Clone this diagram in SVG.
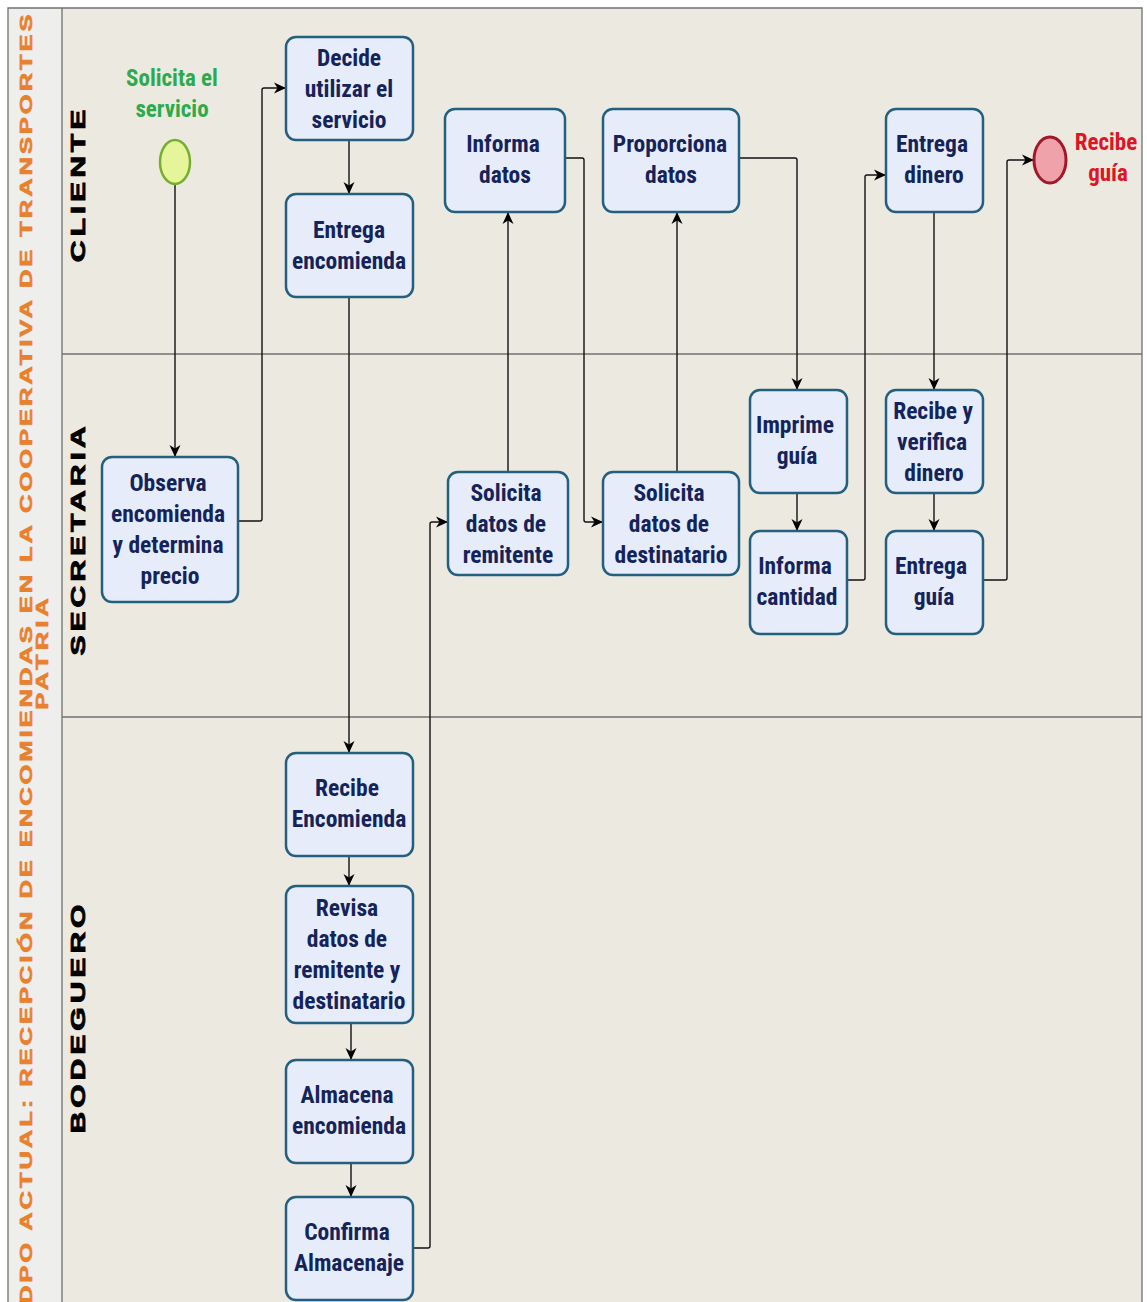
<svg xmlns="http://www.w3.org/2000/svg" width="1147" height="1302" viewBox="0 0 1147 1302">
  <style>
    .lane { fill: #ECEAE0; stroke: none; }
    .sep { stroke: #707070; stroke-width: 1.3; fill: none; }
    .title { font-family: "Liberation Sans", Arial, sans-serif; font-weight: bold; font-size: 16px; fill: #E8802E; stroke: #E8802E; stroke-width: 0.6; }
    .lname { font-family: "Liberation Sans", Arial, sans-serif; font-weight: bold; font-size: 19.5px; fill: #000; stroke: #000; stroke-width: 0.8; letter-spacing: 2.5px; }
    .task rect { fill: #E6ECFA; stroke: #245F80; stroke-width: 2.5; }
    .task text { font-family: "Roboto Condensed", "Liberation Sans Narrow", "Liberation Sans", Arial, sans-serif; font-weight: bold; font-size: 23.5px; fill: #14245A; text-anchor: middle; }
    .conn path { fill: none; stroke: #111; stroke-width: 1.4; }
    .evlabel { font-family: "Roboto Condensed", "Liberation Sans Narrow", "Liberation Sans", Arial, sans-serif; font-weight: bold; font-size: 23px; text-anchor: middle; }
  </style>
  <defs>
    <marker id="arrow" viewBox="0 0 12 12" refX="12" refY="6" markerWidth="13" markerHeight="12" markerUnits="userSpaceOnUse" orient="auto">
      <path d="M0,0.5 L12,6 L0,11.5 L3.5,6 Z" fill="#000"/>
    </marker>
  </defs>

  <!-- page background and pool frame -->
  <rect x="0" y="0" width="1147" height="1302" fill="#FFFFFF"/>
  <rect x="8" y="8" width="54" height="1294" fill="#EEEEEC"/>
  <rect class="lane" x="62" y="8" width="1080" height="1294"/>
  <path class="sep" d="M8,1302 V8 H1142 V1302"/>
  <path class="sep" d="M62,8 V1302"/>
  <path class="sep" d="M62,354 H1142"/>
  <path class="sep" d="M62,717 H1142"/>

  <!-- pool title (wide lettering, stretched along the reading direction) -->
  <g id="pool-title">
    <text class="title" transform="translate(32,1304) rotate(-90) scale(1.6,1)" textLength="806" lengthAdjust="spacing">DPO ACTUAL: RECEPCIÓN DE ENCOMIENDAS EN LA COOPERATIVA DE TRANSPORTES</text>
    <text class="title" transform="translate(48,652) rotate(-90) scale(1.6,1)" text-anchor="middle" letter-spacing="2.5">PATRIA</text>
  </g>

  <!-- lane names -->
  <g id="lane-cliente"><text class="lname" transform="translate(85,184) rotate(-90) scale(1.55,1)" text-anchor="middle">CLIENTE</text></g>
  <g id="lane-secretaria"><text class="lname" transform="translate(85,539) rotate(-90) scale(1.55,1)" text-anchor="middle">SECRETARIA</text></g>
  <g id="lane-bodeguero"><text class="lname" transform="translate(85,1017) rotate(-90) scale(1.55,1)" text-anchor="middle">BODEGUERO</text></g>

  <!-- connectors -->
  <g id="connectors" class="conn">
    <path d="M175,184 V457" marker-end="url(#arrow)"/>
    <path d="M238,521 H260 Q262,521 262,519 V90 Q262,88 264,88 H286" marker-end="url(#arrow)"/>
    <path d="M349,140 V194" marker-end="url(#arrow)"/>
    <path d="M349,297 V753" marker-end="url(#arrow)"/>
    <path d="M349,856 V886" marker-end="url(#arrow)"/>
    <path d="M351,1023 V1060" marker-end="url(#arrow)"/>
    <path d="M351,1163 V1197" marker-end="url(#arrow)"/>
    <path d="M413,1248 H428 Q430,1248 430,1246 V524 Q430,522 432,522 H448" marker-end="url(#arrow)"/>
    <path d="M508,472 V212" marker-end="url(#arrow)"/>
    <path d="M565,158 H582 Q584,158 584,160 V520 Q584,522 586,522 H603" marker-end="url(#arrow)"/>
    <path d="M677,472 V212" marker-end="url(#arrow)"/>
    <path d="M739,158 H795 Q797,158 797,160 V390" marker-end="url(#arrow)"/>
    <path d="M797,493 V531" marker-end="url(#arrow)"/>
    <path d="M847,580 H863 Q865,580 865,578 V177 Q865,175 867,175 H886" marker-end="url(#arrow)"/>
    <path d="M934,212 V390" marker-end="url(#arrow)"/>
    <path d="M934,493 V531" marker-end="url(#arrow)"/>
    <path d="M983,580 H1005 Q1007,580 1007,578 V162 Q1007,160 1009,160 H1034" marker-end="url(#arrow)"/>
  </g>

  <!-- start event -->
  <g id="start">
    <ellipse cx="175" cy="162" rx="15" ry="22" fill="#E4F59A" stroke="#78AE30" stroke-width="2.5"/>
    <text class="evlabel" x="172" y="86" fill="#2EAA4E">Solicita el</text>
    <text class="evlabel" x="172" y="117" fill="#2EAA4E">servicio</text>
  </g>

  <!-- end event -->
  <g id="end">
    <ellipse cx="1050" cy="160" rx="16" ry="23" fill="#EFA2AA" stroke="#A0182A" stroke-width="3"/>
    <text class="evlabel" x="1106" y="150" fill="#E01424">Recibe</text>
    <text class="evlabel" x="1108" y="181" fill="#E01424">guía</text>
  </g>

  <!-- tasks -->
  <g id="decide" class="task">
    <rect x="286" y="37" width="127" height="103" rx="10"/>
    <text x="349" y="66">Decide</text><text x="349" y="97">utilizar el</text><text x="349" y="128">servicio</text>
  </g>
  <g id="entrega-encomienda" class="task">
    <rect x="286" y="194" width="127" height="103" rx="10"/>
    <text x="349" y="238">Entrega</text><text x="349" y="269">encomienda</text>
  </g>
  <g id="informa-datos" class="task">
    <rect x="445" y="109" width="120" height="103" rx="10"/>
    <text x="503" y="152">Informa</text><text x="505" y="183">datos</text>
  </g>
  <g id="proporciona-datos" class="task">
    <rect x="603" y="109" width="136" height="103" rx="10"/>
    <text x="670" y="152">Proporciona</text><text x="671" y="183">datos</text>
  </g>
  <g id="entrega-dinero" class="task">
    <rect x="886" y="109" width="97" height="103" rx="10"/>
    <text x="932" y="152">Entrega</text><text x="934" y="183">dinero</text>
  </g>
  <g id="observa" class="task">
    <rect x="102" y="457" width="136" height="145" rx="10"/>
    <text x="168" y="491">Observa</text><text x="168" y="522">encomienda</text><text x="168" y="553">y determina</text><text x="170" y="584">precio</text>
  </g>
  <g id="solicita-remitente" class="task">
    <rect x="448" y="472" width="120" height="103" rx="10"/>
    <text x="506" y="501">Solicita</text><text x="506" y="532">datos de</text><text x="508" y="563">remitente</text>
  </g>
  <g id="solicita-destinatario" class="task">
    <rect x="603" y="472" width="136" height="103" rx="10"/>
    <text x="669" y="501">Solicita</text><text x="669" y="532">datos de</text><text x="671" y="563">destinatario</text>
  </g>
  <g id="imprime-guia" class="task">
    <rect x="750" y="390" width="97" height="103" rx="10"/>
    <text x="795" y="433">Imprime</text><text x="797" y="464">guía</text>
  </g>
  <g id="informa-cantidad" class="task">
    <rect x="750" y="531" width="97" height="103" rx="10"/>
    <text x="795" y="574">Informa</text><text x="797" y="605">cantidad</text>
  </g>
  <g id="recibe-verifica" class="task">
    <rect x="886" y="390" width="97" height="103" rx="10"/>
    <text x="933" y="419">Recibe y</text><text x="932" y="450">verifica</text><text x="934" y="481">dinero</text>
  </g>
  <g id="entrega-guia" class="task">
    <rect x="886" y="531" width="97" height="103" rx="10"/>
    <text x="931" y="574">Entrega</text><text x="934" y="605">guía</text>
  </g>
  <g id="recibe-encomienda" class="task">
    <rect x="286" y="753" width="127" height="103" rx="10"/>
    <text x="347" y="796">Recibe</text><text x="349" y="827">Encomienda</text>
  </g>
  <g id="revisa-datos" class="task">
    <rect x="286" y="886" width="127" height="137" rx="10"/>
    <text x="347" y="916">Revisa</text><text x="347" y="947">datos de</text><text x="347" y="978">remitente y</text><text x="349" y="1009">destinatario</text>
  </g>
  <g id="almacena" class="task">
    <rect x="286" y="1060" width="127" height="103" rx="10"/>
    <text x="347" y="1103">Almacena</text><text x="349" y="1134">encomienda</text>
  </g>
  <g id="confirma" class="task">
    <rect x="286" y="1197" width="127" height="103" rx="10"/>
    <text x="347" y="1240">Confirma</text><text x="349" y="1271">Almacenaje</text>
  </g>
</svg>
